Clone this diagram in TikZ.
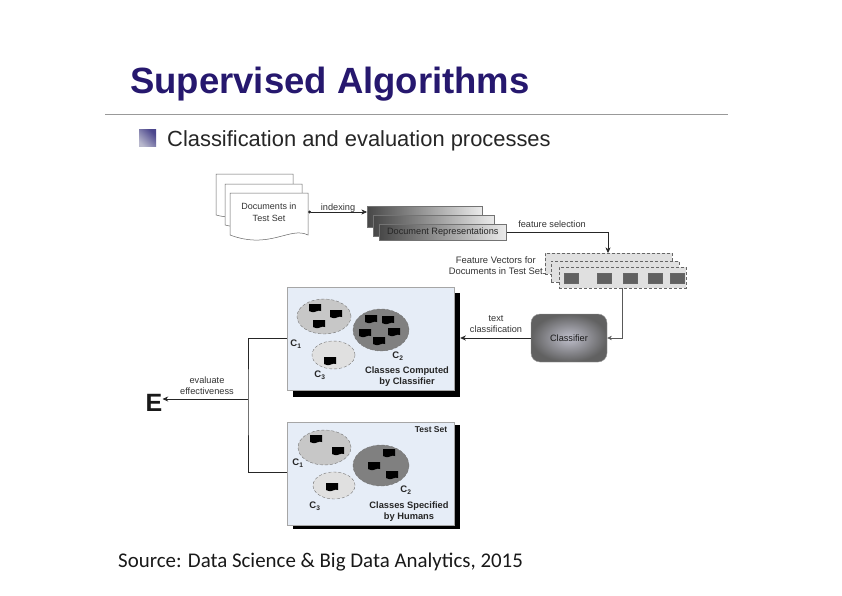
\documentclass[tikz,border=0pt]{standalone}
\usepackage{fontspec}
\setmainfont{Liberation Sans}
\newfontfamily\sourcefont{Carlito}
\usepackage{xcolor}
\usetikzlibrary{arrows.meta, positioning, calc, shapes.geometric}
\definecolor{titleblue}{RGB}{38,24,110}
\definecolor{panelblue}{RGB}{230,237,247}
\definecolor{bulletlight}{RGB}{185,185,205}
\definecolor{bulletdark}{RGB}{75,70,140}

\begin{document}
\begin{tikzpicture}[
        x=1pt, y=-1pt,
        lbl/.style={font=\fontsize{9.2}{11}\selectfont, text=black!80, align=center, inner sep=0pt},
        boldlbl/.style={font=\fontsize{9.3}{11}\selectfont\bfseries, text=black!85, align=center, inner sep=0pt},
        clsname/.style={font=\fontsize{9.5}{10}\selectfont\bfseries, text=black!85, inner sep=0pt},
        page/.style={draw=black!60, fill=white, line width=0.5pt},
        rep/.style={draw=black!55, line width=0.5pt, left color=black!72, right color=black!8, inner sep=0pt, anchor=north west},
        vec/.style={draw=black!60, densely dashed, line width=0.4pt, fill=black!12, inner sep=0pt, anchor=north west},
        cell/.style={draw=black!60, fill=black!62, minimum width=14pt, minimum height=10pt, inner sep=0pt},
        panel/.style={draw=black!35, fill=panelblue, minimum width=167pt, minimum height=103pt, inner sep=0pt},
        backing/.style={fill=black, minimum width=167pt, minimum height=104pt, inner sep=0pt},
        cluster/.style={ellipse, draw=black!55, densely dashed, line width=0.4pt},
        arr/.style={-{Stealth[length=2mm, width=1.8mm]}, line width=0.7pt, black!85},
        flag/.pic={\fill[black] (-6,-4) -- (6,-4) -- (6,3) .. controls (3,1.5) and (0,5) .. (-3,4) .. controls (-4.5,3.5) and (-5,3) .. (-6,3) -- cycle;}
    ]
        \useasboundingbox (0,0) rectangle (842,596);
        \fill[white] (0,0) rectangle (842,596);

        % heading
        \node[font=\fontsize{36.5}{40}\selectfont\bfseries, text=titleblue, anchor=base west, inner sep=0pt] (title) at (130,94) {Supervised Algorithms};
        \coordinate (ruleL) at (105,115);
        \coordinate (ruleR) at (728,115);
        \draw[black!40, line width=1pt] (ruleL) -- (ruleR);
        \node[left color=bulletlight, right color=bulletdark, shading angle=135, minimum size=17pt, inner sep=0pt] (bullet) at (147.5,138.5) {};
        \node[font=\fontsize{21.9}{26}\selectfont, text=black!85, anchor=base west, inner sep=0pt] (subtitle) at (167,147) {Classification and evaluation processes};

        % documents
        \draw[page] (216,174) -- (293,174) -- (293,210) .. controls (275,202) and (255,225) .. (216,215) -- cycle;
        \draw[page] (225,184) -- (302,184) -- (302,220) .. controls (285,212) and (265,235) .. (225,225) -- cycle;
        \draw[page] (230,193) -- (308,193) -- (308,235) .. controls (290,226) and (270,250) .. (230,235) -- cycle;
        \node[lbl, font=\fontsize{9}{12}\selectfont, minimum width=78pt, minimum height=42pt] (docs) at (269,212) {Documents in\\Test Set};

        % representations
        \node[rep, minimum width=115pt, minimum height=21pt] (repA) at (367,206) {};
        \node[rep, minimum width=121pt, minimum height=21pt] (repB) at (373,215) {};
        \node[rep, minimum width=127pt, minimum height=16pt, font=\fontsize{9.2}{11}\selectfont, text=black!85] (repC) at (379,224) {Document Representations};

        % feature vectors
        \node[vec, minimum width=127pt, minimum height=21pt] (vecA) at (545,253) {};
        \node[vec, minimum width=128pt, minimum height=21pt] (vecB) at (551,261) {};
        \node[vec, minimum width=127pt, minimum height=21pt] (vecC) at (559,267) {};
        \foreach \i/\xx in {1/571, 2/604, 3/630, 4/655, 5/677} {
            \node[cell] (cell\i) at (\xx,278) {};
        }
        \node[lbl, font=\fontsize{9.4}{11}\selectfont, anchor=east] (vecname) at (543,265.5) {Feature Vectors for\\Documents in Test Set};
        \draw[black!60, densely dotted, line width=0.4pt] (vecname.east |- 0,273) -- (vecA.west |- 0,273);

        % classifier
        \node[rounded corners=9pt, minimum width=76pt, minimum height=48pt, inner color=blue!20!black!25, outer color=black!62, draw=black!40, line width=0.4pt, inner sep=0pt, font=\fontsize{9.2}{11}\selectfont, text=black!90] (classifier) at (569,338) {Classifier};

        % computed classes
        \node[backing] (backA) at (376.5,344.5) {};
        \node[panel] (computed) at (370.5,338.5) {};
        \node[cluster, fill=black!22, minimum width=54pt, minimum height=35pt, inner sep=0pt] (aOne) at (324,316.5) {};
        \node[cluster, fill=black!50, minimum width=56pt, minimum height=42pt, inner sep=0pt] (aTwo) at (381,330) {};
        \node[cluster, fill=black!12, minimum width=43pt, minimum height=28pt, inner sep=0pt] (aThree) at (333.5,355) {};
        \foreach \xx/\yy in {315/308, 336/314, 319/324, 371/319, 388/320, 365/333, 394/332, 379/341, 330/361} {
            \pic at (\xx,\yy) {flag};
        }
        \node[clsname] (aOneL) at (296,344) {C$_{\mathbf 1}$};
        \node[clsname] (aTwoL) at (398,356) {C$_{\mathbf 2}$};
        \node[clsname] (aThreeL) at (320,375) {C$_{\mathbf 3}$};
        \node[boldlbl] (computedL) at (407,376.5) {Classes Computed\\by Classifier};

        % specified classes
        \node[backing] (backB) at (376.5,477) {};
        \node[panel] (specified) at (370.5,473.5) {};
        \node[cluster, fill=black!22, minimum width=53pt, minimum height=35pt, inner sep=0pt] (bOne) at (324.5,447.5) {};
        \node[cluster, fill=black!50, minimum width=56pt, minimum height=41pt, inner sep=0pt] (bTwo) at (381,465.5) {};
        \node[cluster, fill=black!12, minimum width=42pt, minimum height=27pt, inner sep=0pt] (bThree) at (334,485.5) {};
        \foreach \xx/\yy in {316/439, 338/451, 389/453, 374/466, 392/475, 332/487} {
            \pic at (\xx,\yy) {flag};
        }
        \node[clsname] (bOneL) at (298,463) {C$_{\mathbf 1}$};
        \node[clsname] (bTwoL) at (406,490) {C$_{\mathbf 2}$};
        \node[clsname] (bThreeL) at (315,506) {C$_{\mathbf 3}$};
        \node[boldlbl] (specifiedL) at (409,511.5) {Classes Specified\\by Humans};
        \node[clsname, font=\fontsize{8.5}{10}\selectfont\bfseries] (testset) at (431,430) {Test Set};

        % evaluation
        \node[font=\fontsize{25}{28}\selectfont\bfseries, inner sep=0pt, text=black!90] (E) at (154,403) {E};
        \coordinate (join) at (248,399);
        \draw[line width=0.9pt, black!85] (computed.west |- 0,338) -| (join) |- (specified.west |- 0,472);
        \draw[arr] (join) -- (E.east |- join);
        \node[lbl] (evalL) at (207,386) {evaluate\\effectiveness};

        % connectors
        \draw[arr, {Circle[length=1mm]}-{Stealth[length=2mm, width=1.8mm]}, line width=0.5pt] (docs.east) -- (repA.west |- docs.east);
        \node[lbl] (indexL) at (338,208) {indexing};
        \draw[arr, line width=0.5pt] (repC.east) -| (vecA.north -| 608,0);
        \node[lbl] (selectL) at (552,224) {feature selection};
        \draw[-{Stealth[length=1.6mm, width=1.5mm]}, black!65, line width=0.5pt] (vecC.south -| 622,0) |- (classifier.east);
        \draw[arr] (classifier.west) -- (backA.east |- classifier.west);
        \node[lbl] (textL) at (496,324) {text\\classification};

        % source
        \node[font=\sourcefont\fontsize{20.9}{24}\selectfont, text=black!90, anchor=base west, inner sep=0pt] (source) at (118,567) {Source: Data Science \& Big Data Analytics, 2015};
    \end{tikzpicture}
\end{document}
